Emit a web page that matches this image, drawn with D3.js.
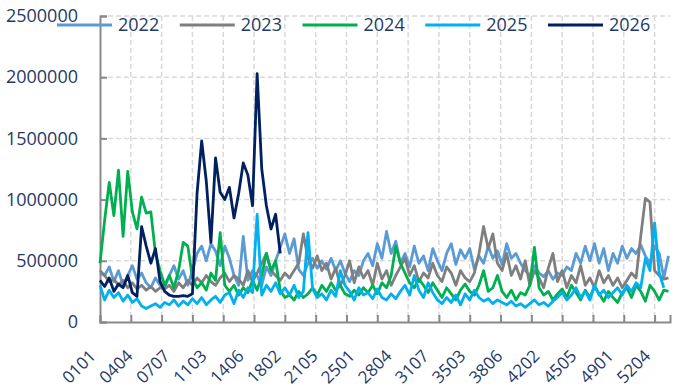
<!DOCTYPE html>
<html><head><meta charset="utf-8">
<script src="https://cdn.jsdelivr.net/npm/d3@7"></script>
<style>
body{margin:0;background:#fff}
svg{display:block}
text{font-family:"Open Sans","Noto Sans",sans-serif;fill:#1f3a68}
</style>
</head><body>
<svg id="chart" width="691" height="392"></svg>
<script>
// ---- data (values in thousands; one value every STEP categories) ----
const UNIT = 1000;
const STEP = 3;
const seriesNames = ["2022", "2023", "2024", "2025", "2026"];
const seriesColors = ["#5b9bd5", "#7f7f7f", "#00b050", "#00b0f0", "#002060"];
const xTickLabels = ["0101","0404","0707","1103","1406","1802","2105","2501","2804","3107","3503","3806","4202","4505","4901","5204"];
const yTicks = [0, 500000, 1000000, 1500000, 2000000, 2500000];

const s2022 = [400,380,450,330,420,300,380,460,350,400,320,280,360,300,
  280,380,460,350,420,300,
  420,560,620,500,640,580,460,620,520,380,300,
  700,340,420,380,300,450,380,500,610,720,560,680,430,380,480,
  520,440,500,430,520,420,500,400,
  330,420,380,500,560,460,640,
  520,740,560,660,480,
  560,450,620,480,540,420,600,500,420,560,640,470,
  590,520,600,430,540,480,620,520,580,470,640,520,560,
  480,420,380,460,400,370,420,350,400,
  380,450,420,560,480,620,500,640,480,600,420,
  560,480,620,520,600,560,630,540,480,620,560,360,540];
const s2023 = [420,380,330,350,300,340,280,320,270,300,260,290,250,280,
  270,300,250,320,280,340,300,360,320,380,330,300,360,400,330,380,
  350,300,420,330,400,480,560,420,380,340,400,360,420,480,720,520,440,540,420,480,
  350,440,300,380,500,320,450,360,420,300,480,350,420,300,380,450,
  520,380,460,330,400,360,480,380,330,450,400,300,420,360,330,400,560,780,600,720,480,420,560,380,460,
  350,500,300,420,360,280,440,560,330,420,280,380,320,460,300,360,280,420,320,380,
  300,360,280,340,400,360,700,1010,980,420,380,350,360];
const s2024 = [480,830,1140,870,1240,700,1230,900,760,1020,890,900,560,420,
  300,380,280,420,650,620,360,280,320,260,400,340,730,300,250,
  300,220,280,240,340,260,380,560,420,500,260,200,220,180,250,200,
  230,280,220,300,250,320,260,300,230,210,260,220,280,240,300,230,320,280,380,620,480,
  400,320,280,350,300,240,320,260,200,280,230,180,260,310,250,220,300,420,250,280,380,250,
  200,260,180,240,220,300,610,280,220,250,180,230,
  270,200,300,240,180,260,200,290,230,170,250,200,160,240,280,200,300,250,170,300,250,180,260,250];
const s2025 = [300,180,260,200,240,170,220,160,190,130,110,130,150,120,
  160,140,180,130,170,140,190,150,200,140,180,210,160,220,240,
  150,260,200,280,240,880,220,300,250,320,230,
  280,220,300,200,250,730,270,200,230,
  180,260,210,420,300,250,180,280,220,240,190,270,200,180,230,190,250,
  300,220,380,260,200,320,240,180,150,200,160,220,140,230,180,260,
  200,170,190,150,180,160,140,170,130,150,120,150,180,140,160,130,170,200,
  240,180,220,280,200,250,180,300,220,260,200,
  240,280,220,300,250,320,280,520,420,810,400,280];
const s2026 = [340,290,360,250,310,280,380,240,210,780,620,480,600,330,250,220,210,210,215,210,
  230,1050,1480,1150,650,1340,1060,1000,1100,850,1050,1300,1200,950,2030,1250,950,760,880,560];
const seriesValues = [s2022, s2023, s2024, s2025, s2026];

// category codes: week (01-53) + weekday (01-07)
const categories = [];
for (let w = 1; w <= 53; w++) for (let d = 1; d <= 7; d++)
  categories.push(String(w).padStart(2, "0") + String(d).padStart(2, "0"));

// ---- layout ----
const L = 100, R = 670, T = 16, B = 322;
const svg = d3.select("#chart");
const x = d3.scalePoint().domain(categories).range([L, R]).padding(0);
const y = d3.scaleLinear().domain([0, 2500000]).range([B, T]);

const gridColor = "#d9d9d9", axisColor = "#898989";
const gridCats = categories.filter((c, i) => i % 20 === 0 && i > 0 && i <= 360);
const tickCats = categories.filter((c, i) => i % 20 === 0 && i <= 360);

// grid
svg.append("g").selectAll("line.h").data(yTicks.filter(v => v > 0)).join("line")
  .attr("x1", L).attr("x2", R).attr("y1", d => y(d)).attr("y2", d => y(d))
  .attr("stroke", gridColor).attr("stroke-width", 1.5).attr("stroke-dasharray", "5,3");
svg.append("g").selectAll("line.v").data(gridCats).join("line")
  .attr("x1", d => x(d)).attr("x2", d => x(d)).attr("y1", T).attr("y2", B)
  .attr("stroke", gridColor).attr("stroke-width", 1.5).attr("stroke-dasharray", "5,3");

// axes
const yAxis = d3.axisLeft(y).tickValues(yTicks).tickSize(-7).tickPadding(22).tickFormat(d3.format("d"));
const gy = svg.append("g").attr("transform", `translate(${L},0)`).call(yAxis);
gy.select(".domain").attr("stroke", axisColor).attr("stroke-width", 2);
gy.selectAll(".tick line").attr("stroke", axisColor).attr("stroke-width", 2);
gy.selectAll(".tick text").style("font-size", "18px").attr("fill", "#1f3a68");

const xAxis = d3.axisBottom(x).tickValues(tickCats).tickSize(-7).tickFormat("");
const gx = svg.append("g").attr("transform", `translate(0,${B})`).call(xAxis);
gx.select(".domain").attr("stroke", axisColor).attr("stroke-width", 2);
gx.selectAll(".tick line").attr("stroke", axisColor).attr("stroke-width", 2);

// rotated x labels
svg.append("g").selectAll("text").data(xTickLabels).join("text")
  .attr("transform", d => `translate(${x(d) - 3},${B + 35}) rotate(-45)`)
  .attr("text-anchor", "end")
  .style("font-size", "17px")
  .text(d => d);

// lines
const line = d3.line()
  .x((v, i) => x(categories[i * STEP]))
  .y(v => y(v * UNIT));
svg.append("g").selectAll("path").data(seriesValues).join("path")
  .attr("d", d => line(d))
  .attr("fill", "none")
  .attr("stroke", (d, i) => seriesColors[i])
  .attr("stroke-width", 2.8)
  .attr("stroke-linejoin", "round");

// legend
const lg = svg.append("g").selectAll("g").data(seriesNames).join("g")
  .attr("transform", (d, i) => `translate(${57 + i * 122.75},25)`);
lg.append("line").attr("x1", 0).attr("x2", 55).attr("y1", 0).attr("y2", 0)
  .attr("stroke", (d, i) => seriesColors[i]).attr("stroke-width", 3);
lg.append("text").attr("x", 61).attr("dy", "0.35em").style("font-size", "18px").text(d => d);
</script>
</body></html>
